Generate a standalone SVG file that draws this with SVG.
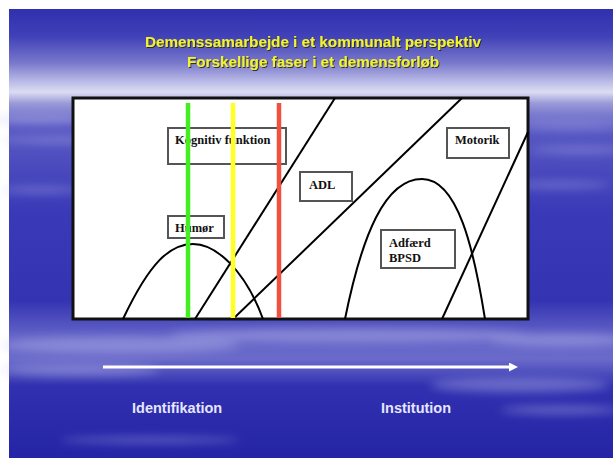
<svg xmlns="http://www.w3.org/2000/svg" width="613" height="459" viewBox="0 0 613 459">
<defs>
<linearGradient id="sky" x1="0" y1="0" x2="0" y2="1">
<stop offset="0" stop-color="#3030b0"/>
<stop offset="0.06" stop-color="#4040b8"/>
<stop offset="0.12" stop-color="#7878cc"/>
<stop offset="0.16" stop-color="#b8b8e6"/>
<stop offset="0.185" stop-color="#dcdcf4"/>
<stop offset="0.21" stop-color="#9a9ad8"/>
<stop offset="0.26" stop-color="#5a5ac4"/>
<stop offset="0.45" stop-color="#3a3ab8"/>
<stop offset="0.65" stop-color="#3434b2"/>
<stop offset="0.73" stop-color="#6464c8"/>
<stop offset="0.78" stop-color="#6a6aca"/>
<stop offset="0.84" stop-color="#3030b0"/>
<stop offset="1" stop-color="#2424a6"/>
</linearGradient>
<filter id="blur" x="-20%" y="-50%" width="140%" height="200%"><feGaussianBlur stdDeviation="5"/></filter>
<filter id="sh" x="-5%" y="-20%" width="110%" height="140%"><feDropShadow dx="1" dy="1" stdDeviation="0.6" flood-color="#222" flood-opacity="0.9"/></filter>
<marker id="ah" markerWidth="9" markerHeight="9" refX="5" refY="4.5" orient="auto" markerUnits="userSpaceOnUse"><path d="M0,0 L9,4.5 L0,9 Z" fill="#ffffff"/></marker>
<style>
.box{fill:#ffffff;stroke:#555555;stroke-width:2}
.lbl{font-family:"Liberation Serif",serif;font-weight:bold;font-size:12.5px;fill:#111111}
.curve{fill:none;stroke:#000000;stroke-width:2}
.title{font-family:"Liberation Sans",Arial,sans-serif;font-weight:bold;font-size:14px;fill:#f2f230}
.foot{font-family:"Liberation Sans",Arial,sans-serif;font-weight:bold;font-size:14.5px;fill:#e6e6ff}
</style>
</defs>
<rect x="0" y="0" width="613" height="459" fill="#ffffff"/>
<rect x="9" y="9" width="604" height="449" fill="url(#sky)"/>
<g filter="url(#blur)" fill="#c0c0ee" opacity="0.4">
<ellipse cx="40" cy="120" rx="50" ry="4"/>
<ellipse cx="60" cy="140" rx="60" ry="3"/>
<ellipse cx="570" cy="125" rx="60" ry="4"/>
<ellipse cx="580" cy="150" rx="50" ry="3"/>
<ellipse cx="560" cy="185" rx="50" ry="3"/>
<ellipse cx="40" cy="190" rx="40" ry="3"/>
<ellipse cx="120" cy="345" rx="120" ry="8"/>
<ellipse cx="350" cy="335" rx="180" ry="7"/>
<ellipse cx="560" cy="340" rx="70" ry="6"/>
<ellipse cx="80" cy="370" rx="80" ry="6"/>
<ellipse cx="520" cy="385" rx="90" ry="7"/>
<ellipse cx="560" cy="410" rx="60" ry="4"/>
<ellipse cx="150" cy="440" rx="90" ry="3"/>
</g>
<g id="title" filter="url(#sh)">
<text class="title" x="313" y="47" text-anchor="middle" textLength="336" lengthAdjust="spacingAndGlyphs">Demenssamarbejde i et kommunalt perspektiv</text>
<text class="title" x="313" y="67" text-anchor="middle" textLength="252" lengthAdjust="spacingAndGlyphs">Forskellige  faser i et demensforløb</text>
</g>
<g id="chart-frame">
<rect x="73" y="98" width="455" height="221" fill="#ffffff" stroke="#111111" stroke-width="3"/>
</g>
<g id="node-kognitiv">
<rect class="box" x="168" y="128" width="118" height="36"/>
<text class="lbl" x="175" y="144">Kognitiv funktion</text>
</g>
<g id="node-humor">
<rect class="box" x="168" y="216" width="56" height="22"/>
<text class="lbl" x="175" y="232">Humør</text>
</g>
<g id="node-adl">
<rect class="box" x="300" y="172" width="52" height="29"/>
<text class="lbl" x="309" y="189">ADL</text>
</g>
<g id="node-motorik">
<rect class="box" x="447" y="128" width="62" height="30"/>
<text class="lbl" x="455" y="144">Motorik</text>
</g>
<g id="node-adfaerd">
<rect class="box" x="381" y="230" width="74" height="38"/>
<text class="lbl" x="389" y="247">Adfærd</text>
<text class="lbl" x="389" y="262">BPSD</text>
</g>
<g id="connectors">
<path class="curve" d="M123,319 C150,262 170,244 193,244 C216,244 245,270 263,319"/>
<path class="curve" d="M195,319 L335,98"/>
<path class="curve" d="M233,319 L462,98"/>
<path class="curve" d="M345,319 C362,235 385,179 422,179 C458,179 474,250 485,319"/>
<path class="curve" d="M442,319 L528,132"/>
<line x1="188" y1="103" x2="188" y2="318" stroke="#44ee22" stroke-width="4.5"/>
<line x1="233" y1="103" x2="233" y2="318" stroke="#ffff22" stroke-width="4.5"/>
<line x1="279" y1="103" x2="279" y2="318" stroke="#f05040" stroke-width="4.5"/>
<line x1="103" y1="367" x2="514" y2="367" stroke="#ffffff" stroke-width="3" marker-end="url(#ah)"/>
</g>
<g id="footer">
<text class="foot" x="132" y="413">Identifikation</text>
<text class="foot" x="381" y="413">Institution</text>
</g>
</svg>
